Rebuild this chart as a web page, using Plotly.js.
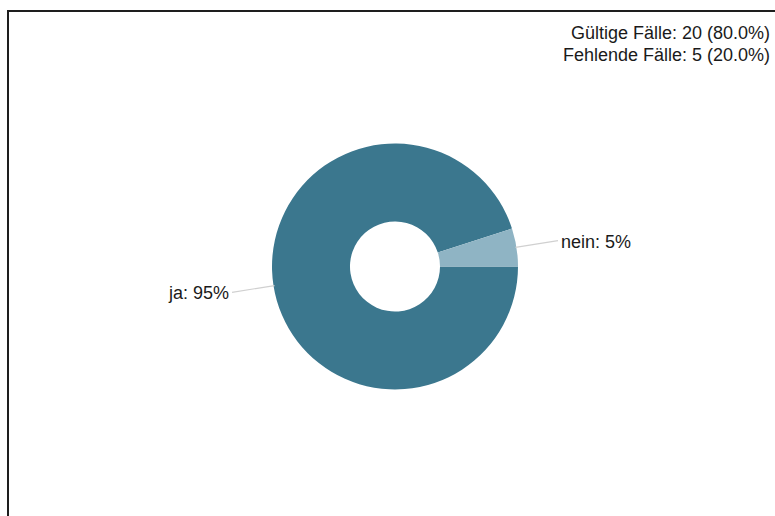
<!DOCTYPE html>
<html>
<head>
<meta charset="utf-8">
<script src="https://cdn.plot.ly/plotly-3.0.1.min.js"></script>
<style>
  html, body { margin: 0; padding: 0; background: #fff; overflow: hidden; }
  #wrap { position: relative; width: 775px; height: 516px; }
  #chart { position: absolute; left: 0; top: 0; width: 775px; height: 516px; }
  #frame { position: absolute; left: 7px; top: 10px; width: 800px; height: 600px;
           border-left: 2px solid #1e1e1e; border-top: 2px solid #1e1e1e; pointer-events: none; }
</style>
</head>
<body>
<div id="wrap">
  <div id="chart"></div>
  <div id="frame"></div>
</div>
<script>
// ---- data ----
const categories = ["ja", "nein"];
const counts = [19, 1];
const colors = ["#3b778e", "#8fb4c4"];
const validCases = 20;
const missingCases = 5;
const infoLabels = ["Gültige Fälle", "Fehlende Fälle"];

// ---- geometry (layout) ----
const W = 775, H = 516;
const cx = 395, cy = 266.5, R = 123, holeFrac = 0.366;
const rotation = 90;

const total = counts.reduce((a, b) => a + b, 0);
const pct = counts.map(v => Math.round(100 * v / total));
const labelsText = categories.map((c, i) => c + ": " + pct[i] + "%");

const px = x => x / W;
const py = y => 1 - y / H;

const trace = {
  type: "pie",
  labels: categories,
  values: counts,
  sort: false,
  direction: "clockwise",
  rotation: rotation,
  hole: holeFrac,
  marker: { colors: colors, line: { width: 0 } },
  textinfo: "none",
  hoverinfo: "none",
  showlegend: false,
  domain: { x: [px(cx - R), px(cx + R)], y: [py(cy + R), py(cy - R)] }
};

const shapes = [];
const annotations = [];
let cum = 0;
counts.forEach((v, i) => {
  const frac = v / total;
  const mid = (rotation + 360 * (cum + frac / 2)) * Math.PI / 180;
  cum += frac;
  const s = Math.sin(mid), c = Math.cos(mid);
  const x0 = cx + (R - 1) * s, y0 = cy - (R - 1) * c;
  const x1 = cx + (R + 42) * s, y1 = cy - (R + 42) * c;
  shapes.push({ type: "line", xref: "paper", yref: "paper",
    x0: px(x0), y0: py(y0), x1: px(x1), y1: py(y1),
    line: { color: "#d0d0d0", width: 1.2 } });
  annotations.push({ xref: "paper", yref: "paper",
    x: px(x1 + (s > 0 ? 1 : -1)), y: py(y1 + 1),
    xanchor: s > 0 ? "left" : "right", yanchor: "middle",
    text: labelsText[i], showarrow: false,
    font: { family: "Liberation Sans, Arial, sans-serif", size: 18, color: "#1a1a1a" } });
});

const n = validCases + missingCases;
const infoTexts = [
  infoLabels[0] + ": " + validCases + " (" + (100 * validCases / n).toFixed(1) + "%)",
  infoLabels[1] + ": " + missingCases + " (" + (100 * missingCases / n).toFixed(1) + "%)"
];
infoTexts.forEach((t, i) => {
  annotations.push({ xref: "paper", yref: "paper",
    x: px(772), y: py(33 + 22 * i), xanchor: "right", yanchor: "middle",
    text: t, showarrow: false,
    font: { family: "Liberation Sans, Arial, sans-serif", size: 18, color: "#1a1a1a" } });
});

const layout = {
  width: W, height: H,
  margin: { l: 0, r: 0, t: 0, b: 0 },
  paper_bgcolor: "#ffffff",
  plot_bgcolor: "#ffffff",
  shapes: shapes,
  annotations: annotations
};

Plotly.newPlot("chart", [trace], layout, { displayModeBar: false, staticPlot: true });
</script>
</body>
</html>
